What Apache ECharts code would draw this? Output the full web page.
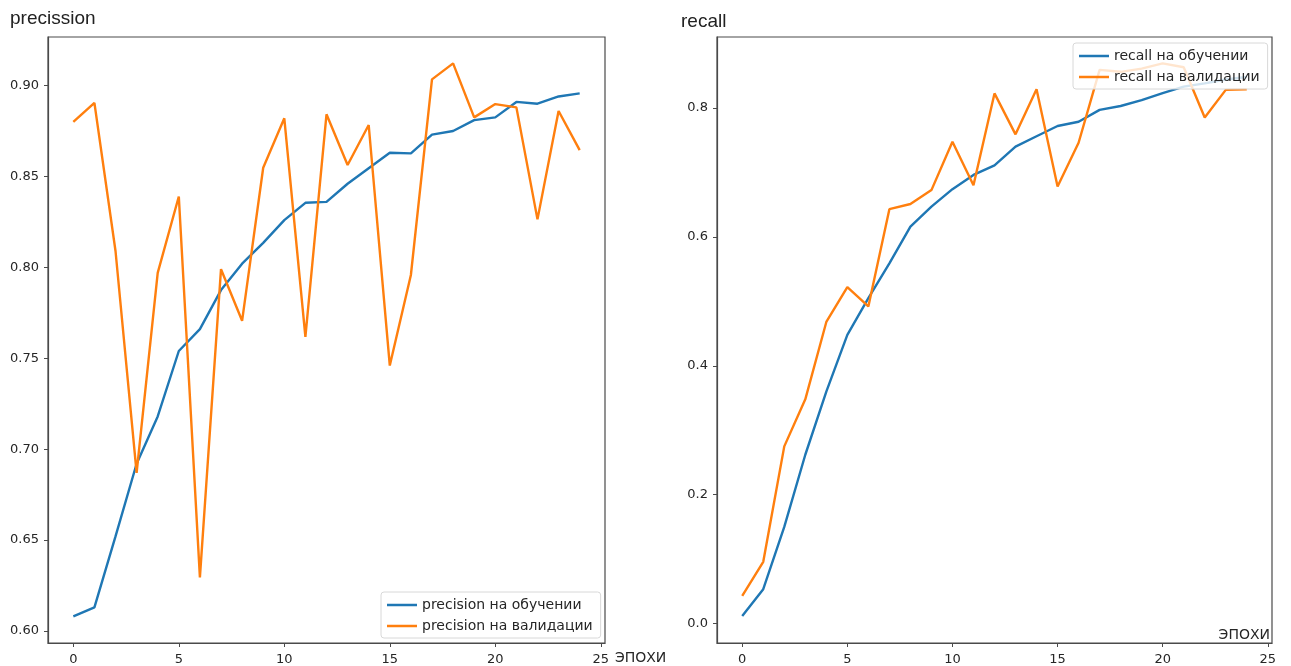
<!DOCTYPE html>
<html>
<head>
<meta charset="utf-8">
<script src="https://cdn.jsdelivr.net/npm/echarts@6/dist/echarts.min.js"></script>
<style>html,body{margin:0;padding:0;background:#fff;}#c{width:1291px;height:666px;}</style>
</head>
<body>
<div id="c"></div>
<script>
const epochs = [0,1,2,3,4,5,6,7,8,9,10,11,12,13,14,15,16,17,18,19,20,21,22,23,24];
const precTrain = [0.608,0.613,0.652,0.692,0.718,0.754,0.766,0.7875,0.802,0.8135,0.826,0.8355,0.836,0.846,0.8545,0.863,0.8627,0.873,0.875,0.881,0.8825,0.891,0.890,0.894,0.8957];
const precVal = [0.880,0.8905,0.809,0.687,0.797,0.839,0.6295,0.799,0.7706,0.8548,0.882,0.7618,0.8842,0.8563,0.8783,0.746,0.7958,0.9034,0.9122,0.8825,0.8898,0.888,0.8264,0.886,0.8645];
const recTrain = [0.012,0.0535,0.150,0.262,0.360,0.448,0.505,0.559,0.616,0.647,0.674,0.696,0.711,0.740,0.756,0.772,0.7785,0.797,0.803,0.812,0.823,0.833,0.838,0.844,0.848];
const recVal = [0.043,0.096,0.275,0.348,0.468,0.522,0.492,0.643,0.651,0.6725,0.7475,0.680,0.8225,0.759,0.829,0.678,0.746,0.859,0.856,0.861,0.869,0.863,0.785,0.828,0.829];
const xTicks = [0,5,10,15,20,25];
const precTicks = [0.60,0.65,0.70,0.75,0.80,0.85,0.90];
const recTicks = [0.0,0.2,0.4,0.6,0.8];
const titles = ['precission','recall'];
const names = ['precision на обучении','precision на валидации','recall на обучении','recall на валидации'];
const xName = 'ЭПОХИ';

const BLUE = '#1f77b4', ORANGE = '#ff7f0e';
const tickFont = {fontFamily:'DejaVu Sans', fontSize:13, color:'#262626'};
const axisCol = '#4a4a4a';

function xAxis(gi, nameOpts){
  return Object.assign({
    type:'value', gridIndex:gi, min:-1.2, max:25.2,
    axisLine:{show:true, onZero:false, lineStyle:{color:axisCol, width:1.2}},
    axisTick:{show:true, length:4, customValues:xTicks, lineStyle:{color:axisCol}},
    axisLabel:Object.assign({customValues:xTicks, margin:10}, tickFont),
    splitLine:{show:false}, name:xName
  }, nameOpts);
}
function yAxis(gi, mn, mx, ticks, dec){
  return {
    type:'value', gridIndex:gi, min:mn, max:mx,
    axisLine:{show:true, onZero:false, lineStyle:{color:axisCol, width:1.2}},
    axisTick:{show:true, length:4, customValues:ticks, lineStyle:{color:axisCol}},
    axisLabel:Object.assign({customValues:ticks, margin:9, formatter:v=>v.toFixed(dec)}, tickFont),
    splitLine:{show:false}
  };
}
function ser(name, vals, color, xi){
  return {type:'line', name:name, xAxisIndex:xi, yAxisIndex:xi,
    data:epochs.map((e,i)=>[e, vals[i]]), showSymbol:false, symbol:'none',
    lineStyle:{color:color, width:2.4}, itemStyle:{color:color}, animation:false, z:2};
}
const legendCommon = {
  orient:'vertical', icon:'rect', itemWidth:30, itemHeight:2.5, itemGap:7,
  backgroundColor:'rgba(255,255,255,0.8)', borderColor:'#d8d8d8', borderWidth:1, borderRadius:3,
  padding:[6,8,5,6], textStyle:{fontFamily:'DejaVu Sans', fontSize:14, color:'#262626'}, z:10
};
const option = {
  animation:false,
  title:[
    {text:titles[0], left:5, top:4, textStyle:{fontFamily:'Liberation Sans', fontSize:19, fontWeight:'normal', color:'#222'}},
    {text:titles[1], left:676, top:7, textStyle:{fontFamily:'Liberation Sans', fontSize:19, fontWeight:'normal', color:'#222'}}
  ],
  grid:[
    {left:48, top:37, width:557, height:606, show:true, borderColor:axisCol, borderWidth:1.2, backgroundColor:'transparent'},
    {left:717, top:37, width:555, height:606, show:true, borderColor:axisCol, borderWidth:1.2, backgroundColor:'transparent'}
  ],
  xAxis:[
    xAxis(0, {nameLocation:'end', nameGap:4, nameTextStyle:{fontFamily:'DejaVu Sans', fontSize:14, color:'#262626', verticalAlign:'top', padding:[8,0,0,0]}}),
    xAxis(1, {nameLocation:'end', nameGap:-2, nameTextStyle:{fontFamily:'DejaVu Sans', fontSize:14, color:'#262626', align:'right', verticalAlign:'bottom', padding:[0,0,1,0]}})
  ],
  yAxis:[ yAxis(0, 0.5934, 0.9267, precTicks, 2), yAxis(1, -0.030, 0.910, recTicks, 1) ],
  legend:[
    Object.assign({}, legendCommon, {data:[names[0],names[1]], left:381, top:592}),
    Object.assign({}, legendCommon, {data:[names[2],names[3]], left:1073, top:43})
  ],
  series:[
    ser(names[0], precTrain, BLUE, 0),
    ser(names[1], precVal, ORANGE, 0),
    ser(names[2], recTrain, BLUE, 1),
    ser(names[3], recVal, ORANGE, 1)
  ]
};
const chart = echarts.init(document.getElementById('c'), null, {renderer:'canvas'});
chart.setOption(option);
</script>
</body>
</html>
